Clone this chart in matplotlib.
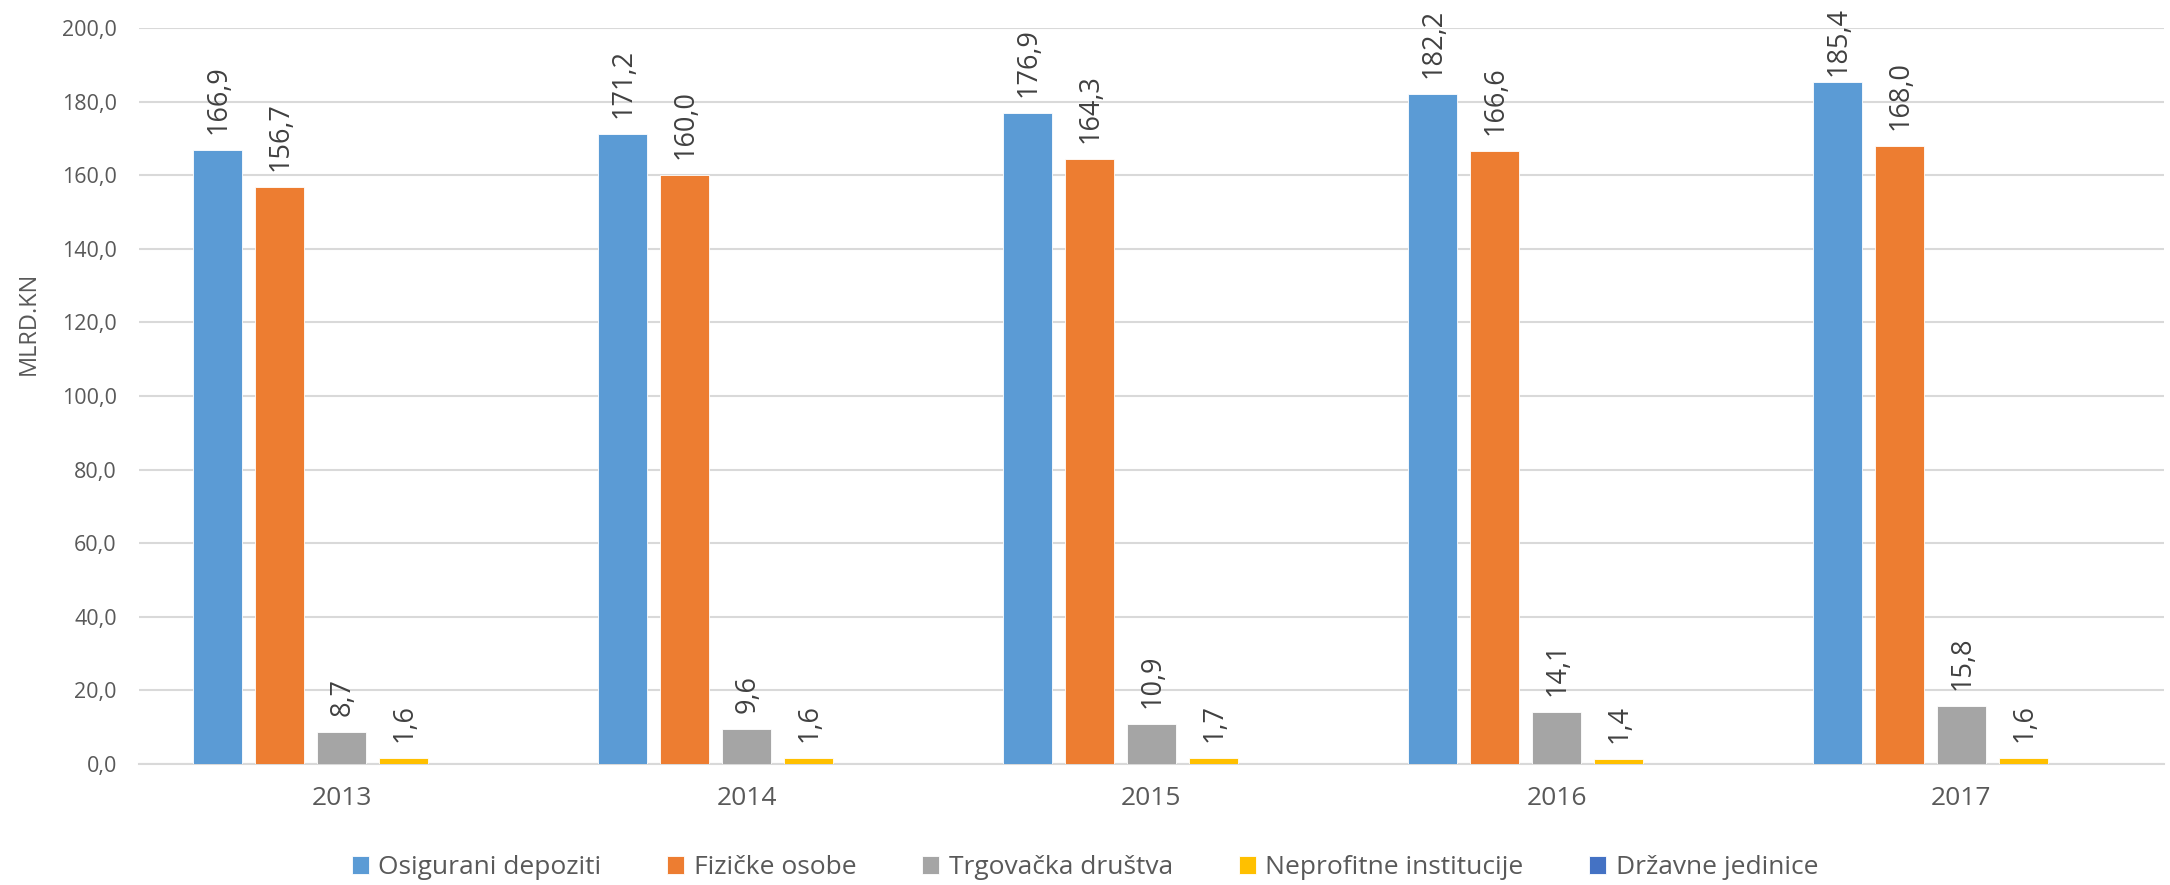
import matplotlib
matplotlib.use("Agg")
import matplotlib.pyplot as plt
import numpy as np

years = ["2013", "2014", "2015", "2016", "2017"]
series_names = ["Osigurani depoziti", "Fizičke osobe", "Trgovačka društva",
                "Neprofitne institucije", "Državne jedinice"]
osigurani = [166.9, 171.2, 176.9, 182.2, 185.4]
fizicke = [156.7, 160.0, 164.3, 166.6, 168.0]
trgovacka = [8.7, 9.6, 10.9, 14.1, 15.8]
neprofitne = [1.6, 1.6, 1.7, 1.4, 1.6]
drzavne = [0.0, 0.0, 0.0, 0.0, 0.0]
colors = ["#5B9BD5", "#ED7D31", "#A5A5A5", "#FFC000", "#4472C4"]
yticks = [0, 20, 40, 60, 80, 100, 120, 140, 160, 180, 200]

plt.rcParams['font.family'] = ['Open Sans', 'DejaVu Sans']
txt = "#595959"

W, H = 2170, 885
ax_top, ax_bot = 28, 764
fig = plt.figure(figsize=(21.7, 8.85), dpi=100)
ax = fig.add_axes([139/W, 1-ax_bot/H, (2164-139)/W, (ax_bot-ax_top)/H])

data = [osigurani, fizicke, trgovacka, neprofitne, drzavne]
x = np.arange(len(years))
step = 0.153
width = 0.121
ymax = 200
px_per_unit = (ax_bot - ax_top) / ymax
label_len_px = 68
for i, (vals, name, c) in enumerate(zip(data, series_names, colors)):
    pos = x + (i - 2) * step
    ax.bar(pos, vals, width, color=c, label=name, zorder=3,
           edgecolor="white", linewidth=0.6)
    if i < 4:
        for p, v in zip(pos, vals):
            room = ax_top + (ymax - v) * px_per_unit - 8 - label_len_px
            gap_px = max(3, min(16, room))
            ax.annotate(f"{v:.1f}".replace(".", ","), (p, v),
                        xytext=(1, gap_px * 0.72),
                        textcoords="offset points", rotation=90,
                        ha="center", va="bottom", fontsize=19.5, color="#404040")

ax.set_xlim(-0.5, 4.5)
ax.set_ylim(0, ymax)
ax.set_yticks(yticks)
ax.set_yticklabels([f"{t:.1f}".replace(".", ",") for t in yticks], fontsize=15.5, color=txt)
ax.set_xticks(x)
ax.set_xticklabels(years, fontsize=19, color=txt)
ax.tick_params(axis="both", length=0)
ax.tick_params(axis="y", pad=16)
ax.tick_params(axis="x", pad=16)
ax.grid(axis="y", color="#D9D9D9", linewidth=1.5, zorder=0)
for s in ["top", "right", "left"]:
    ax.spines[s].set_visible(False)
ax.spines["bottom"].set_color("#D9D9D9")
ax.spines["bottom"].set_linewidth(1.5)

fig.text(29/W, 1-323/H, "MLRD.KN", rotation=90, ha="center", va="center",
         fontsize=17, color=txt)

leg = fig.legend(loc="center", bbox_to_anchor=(0.5, 1-868/H), ncol=5,
                 frameon=False, fontsize=19, handlelength=0.65, handleheight=0.65,
                 columnspacing=2.5, handletextpad=0.35)
for t in leg.get_texts():
    t.set_color(txt)

fig.savefig("out.png", dpi=100)
